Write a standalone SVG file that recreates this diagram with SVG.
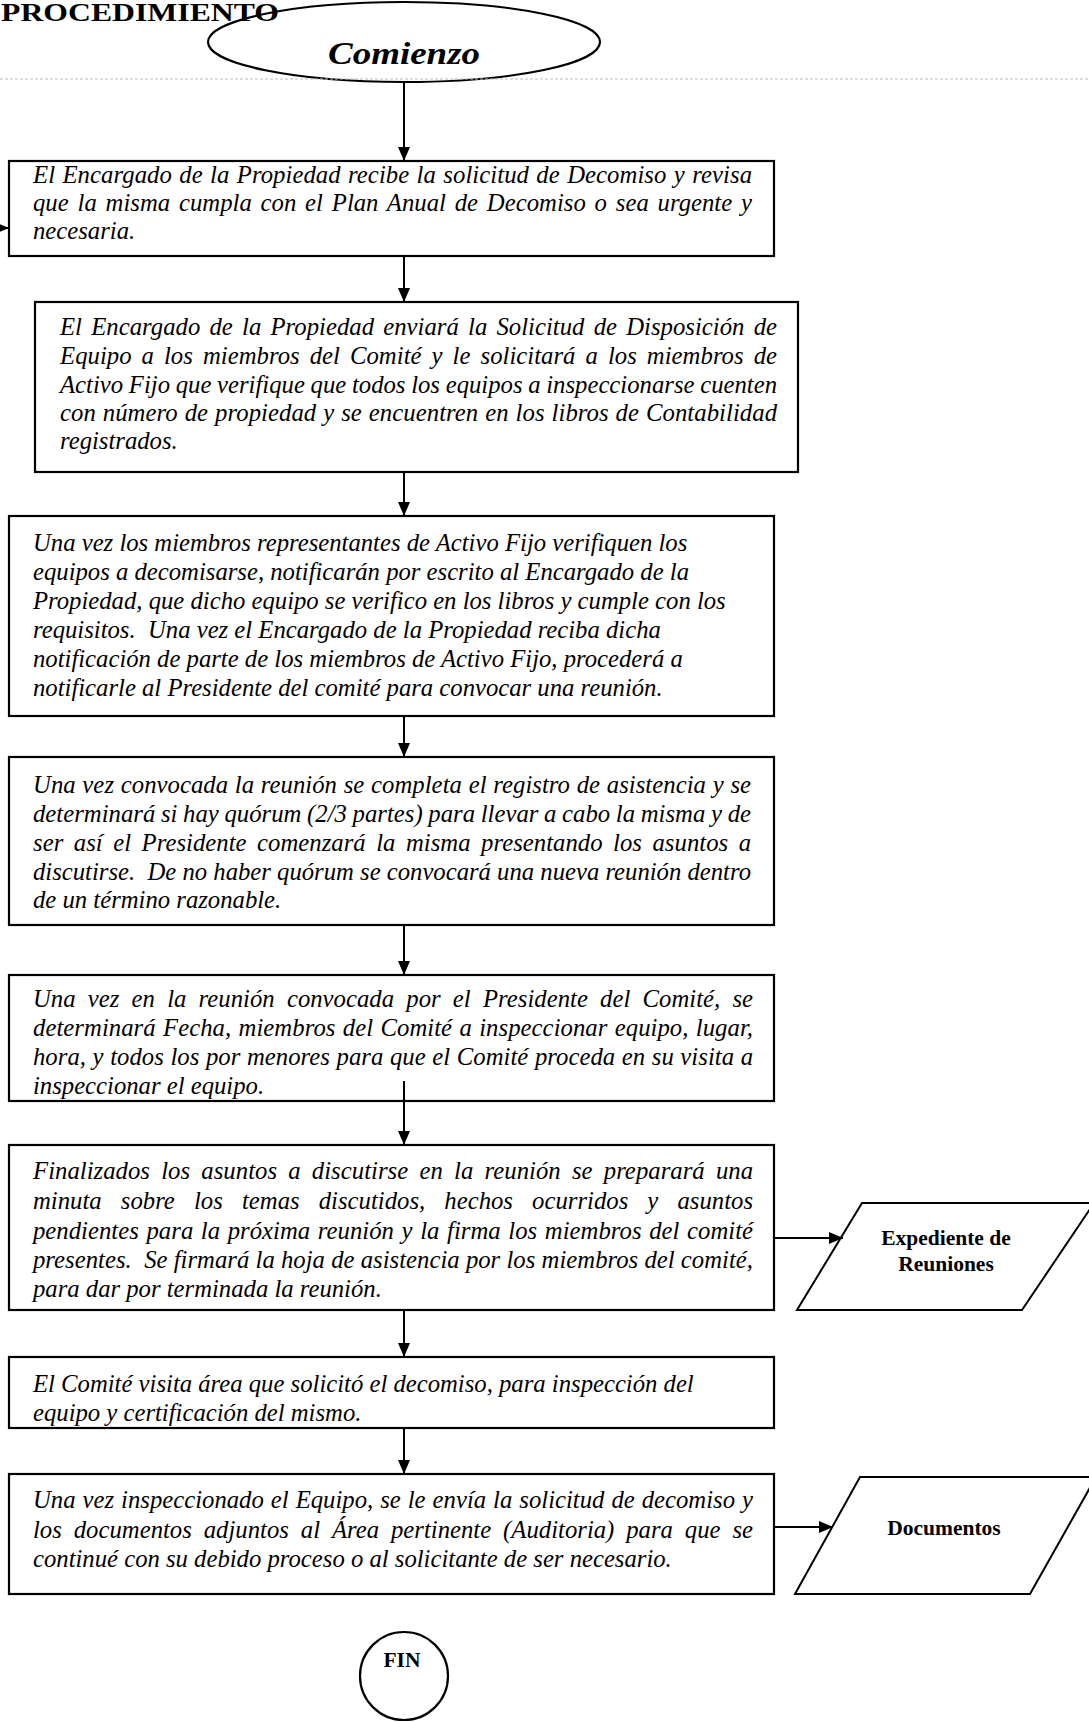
<svg xmlns="http://www.w3.org/2000/svg" width="1089" height="1722" viewBox="0 0 1089 1722">
<defs>
<marker id="ah" markerUnits="userSpaceOnUse" markerWidth="14" markerHeight="12" refX="14" refY="6" orient="auto">
<path d="M0,0 L14,6 L0,12 z" fill="#000"/>
</marker>
<style>
.box{fill:#fff;stroke:#000;stroke-width:2.2}
.t{font-family:"Liberation Serif","Times New Roman",serif;font-style:italic;font-size:24.7px;fill:#000}
.b{font-family:"Liberation Serif","Times New Roman",serif;font-weight:bold;font-size:21.5px;fill:#000;text-anchor:middle}
.c{fill:none;stroke:#000;stroke-width:2;marker-end:url(#ah)}
</style>
</defs>
<rect width="1089" height="1722" fill="#fff"/>
<text x="1" y="21" font-family="'Liberation Serif',serif" font-weight="bold" font-size="25" textLength="278" lengthAdjust="spacingAndGlyphs">PROCEDIMIENTO</text>

<g id="start">
<ellipse cx="404" cy="42" rx="196" ry="40" fill="none" stroke="#000" stroke-width="2.2"/>
<text x="404" y="64" text-anchor="middle" font-family="'Liberation Serif',serif" font-style="italic" font-weight="bold" font-size="32" textLength="152" lengthAdjust="spacingAndGlyphs">Comienzo</text>
</g>
<line x1="0" y1="79" x2="1089" y2="79" stroke="#bbb" stroke-width="1" stroke-dasharray="3,2"/>

<g id="step1">
<rect class="box" x="9" y="161" width="765" height="95"/>
<text class="t" x="33" y="183" word-spacing="1.1" textLength="719" lengthAdjust="spacing">El Encargado de la Propiedad recibe la solicitud de Decomiso y revisa</text>
<text class="t" x="33" y="211" word-spacing="2.6" textLength="719" lengthAdjust="spacing">que la misma cumpla con el Plan Anual de Decomiso o sea urgente y</text>
<text class="t" x="33" y="239">necesaria.</text>
</g>

<g id="step2">
<rect class="box" x="35" y="302" width="763" height="170"/>
<text class="t" x="60" y="335" word-spacing="3" textLength="717" lengthAdjust="spacing">El Encargado de la Propiedad enviará la Solicitud de Disposición de</text>
<text class="t" x="60" y="364" word-spacing="3.8" textLength="717" lengthAdjust="spacing">Equipo a los miembros del Comité y le solicitará a los miembros de</text>
<text class="t" x="60" y="393" word-spacing="-0.5" textLength="717" lengthAdjust="spacing">Activo Fijo que verifique que todos los equipos a inspeccionarse cuenten</text>
<text class="t" x="60" y="421" word-spacing="0.7" textLength="717" lengthAdjust="spacing">con número de propiedad y se encuentren en los libros de Contabilidad</text>
<text class="t" x="60" y="449">registrados.</text>
</g>

<g id="step3">
<rect class="box" x="9" y="516" width="765" height="200"/>
<text class="t" x="33" y="551">Una vez los miembros representantes de Activo Fijo verifiquen los</text>
<text class="t" x="33" y="580">equipos a decomisarse, notificarán por escrito al Encargado de la</text>
<text class="t" x="33" y="609">Propiedad, que dicho equipo se verifico en los libros y cumple con los</text>
<text class="t" x="33" y="638" xml:space="preserve">requisitos.  Una vez el Encargado de la Propiedad reciba dicha</text>
<text class="t" x="33" y="667">notificación de parte de los miembros de Activo Fijo, procederá a</text>
<text class="t" x="33" y="696">notificarle al Presidente del comité para convocar una reunión.</text>
</g>

<g id="step4">
<rect class="box" x="9" y="757" width="765" height="168"/>
<text class="t" x="33" y="793" word-spacing="0.5" textLength="718" lengthAdjust="spacing">Una vez convocada la reunión se completa el registro de asistencia y se</text>
<text class="t" x="33" y="822" word-spacing="-0.5" textLength="718" lengthAdjust="spacing">determinará si hay quórum (2/3 partes) para llevar a cabo la misma y de</text>
<text class="t" x="33" y="851" word-spacing="4.3" textLength="718" lengthAdjust="spacing">ser así el Presidente comenzará la misma presentando los asuntos a</text>
<text class="t" x="33" y="880" textLength="718" lengthAdjust="spacing" xml:space="preserve">discutirse.  De no haber quórum se convocará una nueva reunión dentro</text>
<text class="t" x="33" y="908">de un término razonable.</text>
</g>

<g id="step5">
<rect class="box" x="9" y="975" width="765" height="126"/>
<text class="t" x="33" y="1007" word-spacing="6" textLength="720" lengthAdjust="spacing">Una vez en la reunión convocada por el Presidente del Comité, se</text>
<text class="t" x="33" y="1036" word-spacing="1.1" textLength="720" lengthAdjust="spacing">determinará Fecha, miembros del Comité a inspeccionar equipo, lugar,</text>
<text class="t" x="33" y="1065" word-spacing="0.4" textLength="720" lengthAdjust="spacing">hora, y todos los por menores para que el Comité proceda en su visita a</text>
<text class="t" x="33" y="1094">inspeccionar el equipo.</text>
</g>

<g id="step6">
<rect class="box" x="9" y="1145" width="765" height="165"/>
<text class="t" x="33" y="1179" word-spacing="5" textLength="720" lengthAdjust="spacing">Finalizados los asuntos a discutirse en la reunión se preparará una</text>
<text class="t" x="33" y="1209" word-spacing="12.9" textLength="720" lengthAdjust="spacing">minuta sobre los temas discutidos, hechos ocurridos y asuntos</text>
<text class="t" x="33" y="1239" word-spacing="1.4" textLength="720" lengthAdjust="spacing">pendientes para la próxima reunión y la firma los miembros del comité</text>
<text class="t" x="33" y="1268" textLength="720" lengthAdjust="spacing" xml:space="preserve">presentes.  Se firmará la hoja de asistencia por los miembros del comité,</text>
<text class="t" x="33" y="1297">para dar por terminada la reunión.</text>
</g>

<g id="step7">
<rect class="box" x="9" y="1357" width="765" height="71"/>
<text class="t" x="33" y="1392">El Comité visita área que solicitó el decomiso, para inspección del</text>
<text class="t" x="33" y="1421">equipo y certificación del mismo.</text>
</g>

<g id="step8">
<rect class="box" x="9" y="1474" width="765" height="120"/>
<text class="t" x="33" y="1508" word-spacing="0.8" textLength="720" lengthAdjust="spacing">Una vez inspeccionado el Equipo, se le envía la solicitud de decomiso y</text>
<text class="t" x="33" y="1538" word-spacing="5.7" textLength="720" lengthAdjust="spacing">los documentos adjuntos al Área pertinente (Auditoria) para que se</text>
<text class="t" x="33" y="1567">continué con su debido proceso o al solicitante de ser necesario.</text>
</g>

<g id="expediente">
<polygon points="862,1203 1094,1203 1022,1310 797,1310" fill="#fff" stroke="#000" stroke-width="2"/>
<text class="b" x="946" y="1245">Expediente de</text>
<text class="b" x="946" y="1271">Reuniones</text>
</g>

<g id="documentos">
<polygon points="860,1477 1096,1477 1030,1594 795,1594" fill="#fff" stroke="#000" stroke-width="2"/>
<text class="b" x="944" y="1535">Documentos</text>
</g>

<g id="fin">
<circle cx="404" cy="1676" r="44" fill="#fff" stroke="#000" stroke-width="2.2"/>
<text class="b" x="402" y="1667" font-size="20">FIN</text>
</g>

<g id="connectors">
<line class="c" x1="404" y1="83" x2="404" y2="161"/>
<line class="c" x1="-10" y1="228" x2="9" y2="228"/>
<line class="c" x1="404" y1="256" x2="404" y2="302"/>
<line class="c" x1="404" y1="472" x2="404" y2="516"/>
<line class="c" x1="404" y1="716" x2="404" y2="757"/>
<line class="c" x1="404" y1="925" x2="404" y2="975"/>
<line class="c" x1="404" y1="1081" x2="404" y2="1145"/>
<line class="c" x1="404" y1="1310" x2="404" y2="1357"/>
<line class="c" x1="404" y1="1428" x2="404" y2="1474"/>
<line class="c" x1="774" y1="1238" x2="843" y2="1238"/>
<line class="c" x1="774" y1="1527" x2="833" y2="1527"/>
</g>
</svg>
